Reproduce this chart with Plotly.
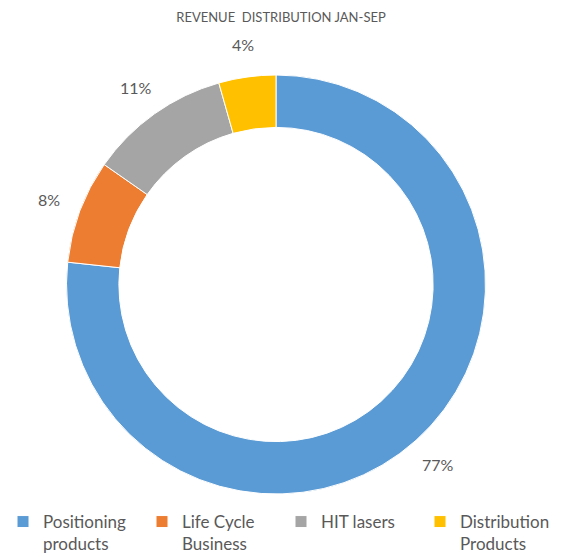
import math
import plotly.graph_objects as go

# ---- data ----
categories = ["Positioning<br>products", "Life Cycle<br>Business", "HIT lasers", "Distribution<br>Products"]
values = [76.7, 8.0, 10.9, 4.4]
colors = ["#5B9BD5", "#ED7D31", "#A5A5A5", "#FFC000"]
title_text = "REVENUE  DISTRIBUTION JAN-SEP"

# figure size (page has an 8px body margin inside the 571x557 window)
OFF = 8
W, H = 571 - OFF, 557 - OFF
MB = 55                      # bottom margin that holds the legend
PH = H - MB                  # plot-area height
FONT = "Lato"
TXT = "#595959"

# ring geometry, in window pixels
CX, CY, R = 276, 284.5, 209.5
fx, fy = CX - OFF, CY - OFF  # figure pixels
dom_x = [(fx - R) / W, (fx + R) / W]
dom_y = [(PH - fy - R) / PH, (PH - fy + R) / PH]

fig = go.Figure(go.Pie(
    labels=categories,
    values=values,
    hole=0.75,
    sort=False,
    direction="clockwise",
    rotation=0,
    marker=dict(colors=colors, line=dict(color="white", width=1)),
    textinfo="none",
    hoverinfo="label+percent",
    domain=dict(x=dom_x, y=dom_y),
))

# percentage labels placed outside the ring, derived from the values
total = sum(values)
label_r = 242
cum = 0.0
annotations = []
for v in values:
    mid = (cum + v / 2) / total * 2 * math.pi
    cum += v
    px = fx + label_r * math.sin(mid)
    py = fy - label_r * math.cos(mid)
    annotations.append(dict(
        x=px / W, y=(PH - py) / PH, xref="paper", yref="paper",
        text=f"{round(v / total * 100)}%", showarrow=False,
        font=dict(family=FONT, size=16, color=TXT),
        xanchor="center", yanchor="middle",
    ))

fig.update_layout(
    width=W, height=H,
    margin=dict(l=0, r=0, t=0, b=MB, autoexpand=False),
    paper_bgcolor="white",
    plot_bgcolor="white",
    title=dict(text=title_text, x=(281 - OFF) / W, y=1 - (17 - OFF) / H,
               xanchor="center", yanchor="middle",
               font=dict(family=FONT, size=13, color=TXT)),
    annotations=annotations,
    legend=dict(
        orientation="h", x=(3 - OFF) / W, y=(PH - (504 - OFF)) / PH,
        xanchor="left", yanchor="top",
        valign="top",
        font=dict(family=FONT, size=17, color=TXT),
        entrywidth=94, entrywidthmode="pixels",
        traceorder="normal",
    ),
    showlegend=True,
)

fig.write_html("out.html")
